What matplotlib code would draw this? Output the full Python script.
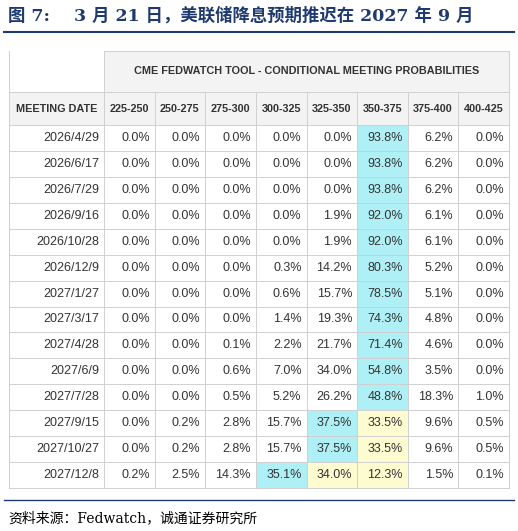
import matplotlib.pyplot as plt
from matplotlib.patches import Rectangle

plt.rcParams['font.family'] = ['Liberation Sans', 'DejaVu Sans']
W, H = 518, 531
dates = ["2026/4/29","2026/6/17","2026/7/29","2026/9/16","2026/10/28","2026/12/9","2027/1/27",
         "2027/3/17","2027/4/28","2027/6/9","2027/7/28","2027/9/15","2027/10/27","2027/12/8"]
ranges = ["225-250","250-275","275-300","300-325","325-350","350-375","375-400","400-425"]
probs = [
 [0.0,0.0,0.0,0.0,0.0,93.8,6.2,0.0],
 [0.0,0.0,0.0,0.0,0.0,93.8,6.2,0.0],
 [0.0,0.0,0.0,0.0,0.0,93.8,6.2,0.0],
 [0.0,0.0,0.0,0.0,1.9,92.0,6.1,0.0],
 [0.0,0.0,0.0,0.0,1.9,92.0,6.1,0.0],
 [0.0,0.0,0.0,0.3,14.2,80.3,5.2,0.0],
 [0.0,0.0,0.0,0.6,15.7,78.5,5.1,0.0],
 [0.0,0.0,0.0,1.4,19.3,74.3,4.8,0.0],
 [0.0,0.0,0.1,2.2,21.7,71.4,4.6,0.0],
 [0.0,0.0,0.6,7.0,34.0,54.8,3.5,0.0],
 [0.0,0.0,0.5,5.2,26.2,48.8,18.3,1.0],
 [0.0,0.2,2.8,15.7,37.5,33.5,9.6,0.5],
 [0.0,0.2,2.8,15.7,37.5,33.5,9.6,0.5],
 [0.2,2.5,14.3,35.1,34.0,12.3,1.5,0.1],
]
yellow = {(11,5),(12,5),(13,4),(13,5)}

fig = plt.figure(figsize=(W/100, H/100), dpi=100)
ax = fig.add_axes([0,0,1,1]); ax.set_xlim(0,W); ax.set_ylim(H,0); ax.axis('off')
ax.text(8, 16, "图 7:    3 月 21 日，美联储降息预期推迟在 2027 年 9 月", fontsize=12.5,
        fontweight='bold', color='#1f3a6e', va='center', family=['DejaVu Serif','Noto Sans CJK SC'])
ax.plot([4,514],[32,32], color='#1f3a6e', lw=1.5)

x0, x1, c0w = 9, 509, 95
cw = (x1 - x0 - c0w)/8
xs = [x0, x0+c0w] + [x0+c0w+cw*(i+1) for i in range(8)]
y_h1, y_h2, y_d = 51, 92, 125
rh = (488 - y_d)/14
grid = '#d0d0d0'
ax.add_patch(Rectangle((x0, y_h1), x1-x0, y_d-y_h1, fc='#f3f3f3', ec='none'))
ax.add_patch(Rectangle((x0, y_h1), c0w, y_h2-y_h1, fc='white', ec='none'))
ax.text((xs[1]+x1)/2, (y_h1+y_h2)/2, "CME FEDWATCH TOOL - CONDITIONAL MEETING PROBABILITIES",
        ha='center', va='center', fontsize=7.8, fontweight='bold', color='#333333')
ax.text((xs[0]+xs[1])/2, (y_h2+y_d)/2, "MEETING DATE", ha='center', va='center',
        fontsize=7.8, fontweight='bold', color='#333333')
for j, r in enumerate(ranges):
    ax.text((xs[j+1]+xs[j+2])/2, (y_h2+y_d)/2, r, ha='center', va='center',
            fontsize=7.8, fontweight='bold', color='#333333')
for i, (d, row) in enumerate(zip(dates, probs)):
    yt = y_d + i*rh
    mx = max(row); jm = row.index(mx)
    for j, v in enumerate(row):
        fc = None
        if j == jm: fc = '#aef0f5'
        elif (i, j) in yellow: fc = '#fdfbd0'
        if fc: ax.add_patch(Rectangle((xs[j+1], yt), cw, rh, fc=fc, ec='none'))
        ax.text(xs[j+2]-5, yt+rh/2, f"{v:.1f}%", ha='right', va='center', fontsize=9, color='#333333')
    ax.text(xs[1]-5, yt+rh/2, d, ha='right', va='center', fontsize=9, color='#333333')
for k in range(15):
    y = y_d + k*rh
    ax.plot([x0,x1],[y,y], color=grid, lw=0.7)
ax.plot([x0,x1],[y_h2,y_h2], color=grid, lw=0.7)
ax.plot([xs[1],x1],[y_h1,y_h1], color=grid, lw=0.7)
for k, x in enumerate(xs):
    top = y_h1 if k in (0,1,9) else y_h2
    ax.plot([x,x],[top,488], color=grid, lw=0.7)
ax.plot([4,514],[500,500], color='#1f3a6e', lw=1.0)
ax.text(8, 518, "资料来源：Fedwatch，诚通证券研究所", fontsize=10, va='center',
        family=['DejaVu Serif','Noto Sans CJK SC'])
fig.savefig("out.png", dpi=100)
